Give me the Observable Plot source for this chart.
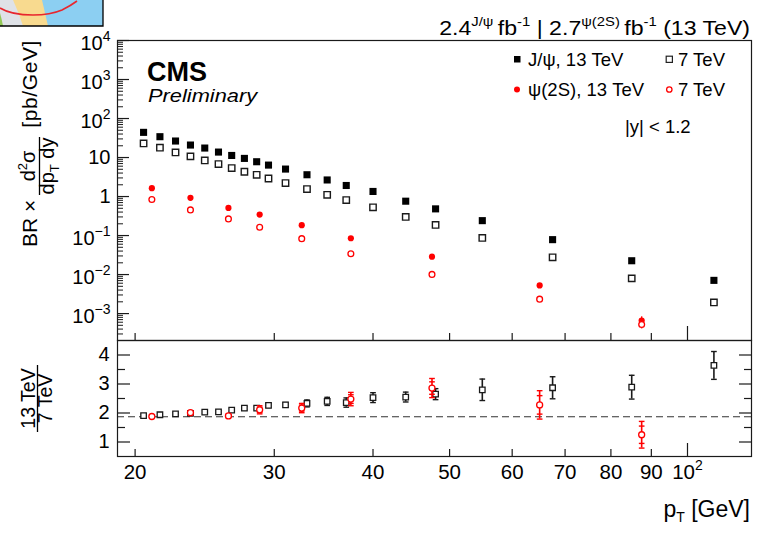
<!DOCTYPE html>
<html>
<head>
<meta charset="utf-8">
<script src="https://cdn.jsdelivr.net/npm/d3@7"></script>
<script src="https://cdn.jsdelivr.net/npm/@observablehq/plot@0.6"></script>
<style>
html,body{margin:0;padding:0;background:#fff;}
#wrap{position:relative;width:770px;height:534px;overflow:hidden;font-family:"Liberation Sans",Arial,Helvetica,sans-serif;}
#wrap svg{position:absolute;left:0;overflow:visible;}
</style>
</head>
<body>
<div id="wrap"></div>
<script>
const FONT = '"Liberation Sans", Arial, Helvetica, sans-serif';

// ---------------- data ----------------
const jpsiPt   = [20.5, 21.5, 22.5, 23.5, 24.5, 25.5, 26.5, 27.5, 28.5, 29.5, 31, 33, 35, 37, 40, 44, 48, 55, 67.5, 85, 108];
const jpsi13   = [44.2, 34.2, 26.5, 20.9, 17.5, 13.8, 11.3, 9.5, 7.8, 6.4, 5.06, 3.62, 2.66, 1.92, 1.35, 0.76, 0.483, 0.241, 0.0785, 0.0226, 0.0071];
const jpsi7    = [23.0, 17.9, 13.5, 10.7, 8.42, 6.81, 5.37, 4.32, 3.61, 2.90, 2.21, 1.55, 1.11, 0.81, 0.53, 0.30, 0.187, 0.0867, 0.0277, 0.00798, 0.00193];
const ratioJpsi    = [1.91, 1.94, 1.97, 1.99, 2.03, 2.04, 2.10, 2.17, 2.17, 2.26, 2.28, 2.33, 2.40, 2.36, 2.53, 2.55, 2.65, 2.80, 2.87, 2.89, 3.64];
const ratioJpsiErr = [0.04, 0.04, 0.04, 0.04, 0.05, 0.05, 0.06, 0.06, 0.06, 0.07, 0.08, 0.12, 0.14, 0.16, 0.17, 0.17, 0.19, 0.37, 0.38, 0.41, 0.48];

const psiPt    = [21, 23.5, 26.25, 28.75, 32.5, 37.5, 47.5, 65, 87.5];
const psi13    = [1.64, 0.926, 0.51, 0.344, 0.184, 0.0853, 0.0287, 0.00527, 0.000665];
const psi13Err = [0.03, 0.015, 0.01, 0.006, 0.004, 0.002, 0.0008, 0.0003, 0.00016];
const psi7     = [0.838, 0.455, 0.267, 0.163, 0.0832, 0.0343, 0.0101, 0.00234, 0.000525];
const psi7Err  = [0.01, 0.006, 0.004, 0.003, 0.002, 0.001, 0.0004, 0.0001, 0.00012];
const ratioPsi    = [1.88, 2.01, 1.90, 2.11, 2.17, 2.48, 2.86, 2.28, 1.25];
const ratioPsiErr = [0.05, 0.06, 0.06, 0.14, 0.16, 0.23, 0.33, 0.49, 0.46];

const refRatio = 1.87;

const yMainTicks  = [1e4, 1e3, 1e2, 10, 1, 0.1, 0.01, 0.001];
const yRatioMajor = [1, 2, 3, 4];
const yRatioMinor = [1.5, 2.5, 3.5];
const xLabelTicks = [20, 30, 40, 50, 60, 70, 80, 90, 100];

// ---------------- layout ----------------
const W = 770, ML = 117, MR = 19;
const plotW = W - ML - MR;
const mainTop = 40, mainBottom = 340, mainPH = mainBottom - mainTop;
const ratioTop = 340, ratioBottom = 456, ratioPH = ratioBottom - ratioTop;
const xDomain = [19, 120.5];
const yMainDomain = [2.04e-4, 1e4];
const yRatioDomain = [0.5, 4.5];
const INK = "#1a1a1a";
const RED = "#ff0000";

const jpsi = jpsiPt.map((pt, i) => ({pt, v13: jpsi13[i], v7: jpsi7[i], r: ratioJpsi[i], e: ratioJpsiErr[i]}));
const psi = psiPt.map((pt, i) => ({pt, v13: psi13[i], e13: psi13Err[i], v7: psi7[i], e7: psi7Err[i], r: ratioPsi[i], e: ratioPsiErr[i]}));

const yMinor = [];
for (let e = -4; e < 4; e++) for (let k = 2; k <= 9; k++) {
  const v = k * Math.pow(10, e);
  if (v > yMainDomain[0] && v < yMainDomain[1]) yMinor.push(v);
}
const xShort = xLabelTicks.filter(d => d !== 100);
const xLong = [100];

const capSym = {draw(ctx, size) { const w = Math.sqrt(size) / 2; ctx.moveTo(-w, 0); ctx.lineTo(w, 0); }};

const fmtY = d => d === 10 ? "10" : d === 1 ? "1" : "10^" + String(Math.round(Math.log10(d))).replace("-", "\u2212");
const fmtX = d => d === 100 ? "10^2" : String(d);

const baseStyle = {background: "transparent", color: "#000", fontFamily: FONT, fontSize: "20px", overflow: "visible"};

// ---------------- main panel ----------------
const main = Plot.plot({
  width: W, height: mainBottom + 1,
  marginLeft: ML, marginRight: MR, marginTop: mainTop, marginBottom: 1,
  x: {type: "log", domain: xDomain, axis: null},
  y: {type: "log", domain: yMainDomain, axis: null},
  style: baseStyle,
  marks: [
    Plot.tickY(yMainTicks, {y: d => d, insetRight: plotW - 12, stroke: INK, strokeWidth: 1.2}),
    Plot.tickY(yMinor, {y: d => d, insetRight: plotW - 6, stroke: INK, strokeWidth: 1}),
    Plot.tickX(xShort, {x: d => d, insetTop: mainPH - 7, stroke: INK, strokeWidth: 1.2}),
    Plot.tickX(xLong, {x: d => d, insetTop: mainPH - 14, stroke: INK, strokeWidth: 1.2}),
    Plot.text(yMainTicks, {y: d => d, text: fmtY, frameAnchor: "left", textAnchor: "end", dx: -7, fontSize: 20, fill: "#000"}),
    Plot.ruleX(psi, {x: "pt", y1: d => d.v13 - d.e13, y2: d => d.v13 + d.e13, stroke: RED, strokeWidth: 1.4}),
    Plot.ruleX(psi, {x: "pt", y1: d => d.v7 - d.e7, y2: d => d.v7 + d.e7, stroke: RED, strokeWidth: 1.4}),
    Plot.dot(jpsi, {x: "pt", y: "v13", symbol: "square", r: 4, fill: "#000", stroke: "none"}),
    Plot.dot(jpsi, {x: "pt", y: "v7", symbol: "square", r: 3.6, fill: "none", stroke: INK, strokeWidth: 1.4}),
    Plot.dot(psi, {x: "pt", y: "v13", r: 3.1, fill: RED, stroke: "none"}),
    Plot.dot(psi, {x: "pt", y: "v7", r: 2.9, fill: "white", stroke: RED, strokeWidth: 1.3}),
    Plot.frame({stroke: INK, strokeWidth: 1.2})
  ]
});
main.style.top = "0px";

// ---------------- ratio panel ----------------
const ratio = Plot.plot({
  width: W, height: 195,
  marginLeft: ML, marginRight: MR, marginTop: 1, marginBottom: 78,
  x: {type: "log", domain: xDomain, axis: null},
  y: {domain: yRatioDomain, axis: null},
  style: baseStyle,
  marks: [
    Plot.tickY(yRatioMajor, {y: d => d, insetRight: plotW - 13, stroke: INK, strokeWidth: 1.2}),
    Plot.tickY(yRatioMinor, {y: d => d, insetRight: plotW - 8, stroke: INK, strokeWidth: 1.2}),
    Plot.tickY(yRatioMajor, {y: d => d, insetLeft: plotW - 12, stroke: INK, strokeWidth: 1.2}),
    Plot.tickY(yRatioMinor, {y: d => d, insetLeft: plotW - 7, stroke: INK, strokeWidth: 1.2}),
    Plot.tickX(xShort, {x: d => d, insetTop: ratioPH - 7, stroke: INK, strokeWidth: 1.2}),
    Plot.tickX(xLong, {x: d => d, insetTop: ratioPH - 13, stroke: INK, strokeWidth: 1.2}),
    Plot.text(yRatioMajor, {y: d => d, text: d => String(d), frameAnchor: "left", textAnchor: "end", dx: -8, fontSize: 20, fill: "#000"}),
    Plot.text(xLabelTicks, {x: d => d, text: fmtX, frameAnchor: "bottom", textAnchor: "middle", dy: 22, fontSize: 20.5, fill: "#000"}),
    Plot.ruleY([refRatio], {y: d => d, stroke: "#333", strokeWidth: 1.2, strokeDasharray: "7,4"}),
    Plot.ruleX(jpsi, {x: "pt", y1: d => d.r - d.e, y2: d => d.r + d.e, stroke: INK, strokeWidth: 1.6}),
    Plot.dot(jpsi, {x: "pt", y: d => d.r + d.e, symbol: capSym, r: 3.2, stroke: INK, strokeWidth: 1.4, fill: "none"}),
    Plot.dot(jpsi, {x: "pt", y: d => d.r - d.e, symbol: capSym, r: 3.2, stroke: INK, strokeWidth: 1.4, fill: "none"}),
    Plot.dot(jpsi, {x: "pt", y: "r", symbol: "square", r: 3.1, fill: "white", stroke: INK, strokeWidth: 1.3}),
    Plot.ruleX(psi, {x: "pt", y1: d => d.r - d.e, y2: d => d.r + d.e, stroke: RED, strokeWidth: 1.6}),
    Plot.dot(psi, {x: "pt", y: d => d.r + d.e, symbol: capSym, r: 3.2, stroke: RED, strokeWidth: 1.4, fill: "none"}),
    Plot.dot(psi, {x: "pt", y: d => d.r - d.e, symbol: capSym, r: 3.2, stroke: RED, strokeWidth: 1.4, fill: "none"}),
    Plot.dot(psi, {x: "pt", y: d => d.r + 0.65 * d.e, symbol: capSym, r: 3.2, stroke: RED, strokeWidth: 1.4, fill: "none"}),
    Plot.dot(psi, {x: "pt", y: d => d.r - 0.65 * d.e, symbol: capSym, r: 3.2, stroke: RED, strokeWidth: 1.4, fill: "none"}),
    Plot.dot(psi, {x: "pt", y: "r", r: 3, fill: "white", stroke: RED, strokeWidth: 1.3}),
    Plot.frame({stroke: INK, strokeWidth: 1.2})
  ]
});
ratio.style.top = (ratioTop - 1) + "px";

// superscripts for "a^b" labels
function supify(svg, baseShift) {
  const ns = "http://www.w3.org/2000/svg";
  svg.querySelectorAll("text").forEach(t => {
    const s = t.textContent;
    if (!s.includes("^")) return;
    const [b, e] = s.split("^");
    while (t.firstChild) t.removeChild(t.firstChild);
    const tb = document.createElementNS(ns, "tspan");
    tb.textContent = b;
    if (baseShift) tb.setAttribute("dy", baseShift);
    const te = document.createElementNS(ns, "tspan");
    te.textContent = e;
    te.setAttribute("dy", "-9");
    te.setAttribute("font-size", "14");
    t.appendChild(tb); t.appendChild(te);
  });
}
supify(main, 3);
supify(ratio, 0);

const wrap = document.getElementById("wrap");
wrap.appendChild(main);
wrap.appendChild(ratio);

// ---------------- annotations ----------------
const ann = `
<svg width="770" height="534" style="top:0;pointer-events:none" font-family='${FONT}' fill="#000">
  <defs><clipPath id="lc"><rect x="0" y="0" width="103" height="26"/></clipPath></defs>
  <g clip-path="url(#lc)">
    <rect x="0" y="0" width="103" height="26" fill="#8ccff2"/>
    <path d="M0,0 H42 Q45,13 48,26 H0 Z" fill="#f8da8f"/>
    <path d="M0,0 H13 Q19,13 23,26 H0 Z" fill="#dfe2e7"/>
    <path d="M0,13 Q2,20 3,26 H0 Z" fill="#93c957"/>
    <path d="M0,8 C8,13 20,15 33,15 C45,15 55,13 62,10 C68,7 73,4 77,1" stroke="#e8262d" stroke-width="1.6" fill="none"/>
  </g>
  <path d="M0,26 H103 V0" stroke="#000" stroke-width="1.3" fill="none"/>

  <g transform="translate(750,34.5) scale(1.1,1)">
    <text x="0" y="0" text-anchor="end" font-size="21">2.4<tspan dy="-8.5" font-size="13.5">J/ψ</tspan><tspan dy="8.5" dx="4">fb</tspan><tspan dy="-8.5" font-size="13.5">-1</tspan><tspan dy="8.5"> | 2.7</tspan><tspan dy="-8.5" font-size="13.5">ψ(2S)</tspan><tspan dy="8.5" dx="4">fb</tspan><tspan dy="-8.5" font-size="13.5">-1</tspan><tspan dy="8.5"> (13 TeV)</tspan></text>
  </g>

  <text x="147" y="81" font-size="27" font-weight="bold">CMS</text>
  <g transform="translate(148,102) scale(1.18,1)">
    <text x="0" y="0" font-size="18.5" font-style="italic">Preliminary</text>
  </g>

  <rect x="514" y="56" width="6.5" height="6.5" fill="#000"/>
  <text x="528" y="65.5" font-size="18.5">J/ψ, 13 TeV</text>
  <rect x="666.2" y="56.2" width="6.2" height="6.2" fill="none" stroke="#222" stroke-width="1.2"/>
  <text x="678" y="65.5" font-size="18.5">7 TeV</text>
  <circle cx="517" cy="89.5" r="3" fill="${RED}"/>
  <text x="528" y="96" font-size="18.5">ψ(2S), 13 TeV</text>
  <circle cx="669.3" cy="89.5" r="2.7" fill="none" stroke="${RED}" stroke-width="1.3"/>
  <text x="678" y="96" font-size="18.5">7 TeV</text>
  <text x="625" y="133" font-size="18.5">|y| &lt; 1.2</text>

  <g transform="translate(37,0) rotate(-90)" font-size="21">
    <text x="-247" y="0">BR ×</text>
    <text x="-166" y="-2.5" text-anchor="middle" font-size="20">d<tspan dy="-8" font-size="13">2</tspan><tspan dy="8">σ</tspan></text>
    <line x1="-195" x2="-137" y1="2.5" y2="2.5" stroke="#000" stroke-width="1.3"/>
    <text x="-166" y="17" text-anchor="middle" font-size="20">dp<tspan dy="5" font-size="13">T</tspan><tspan dy="-5"> dy</tspan></text>
    <text x="-40" y="0" text-anchor="end" letter-spacing="0.6">[pb/GeV]</text>
  </g>

  <g transform="translate(35,398.5) rotate(-90)" font-size="19.5">
    <text x="0" y="0" text-anchor="middle">13 TeV</text>
    <line x1="-33.5" x2="33.5" y1="2.5" y2="2.5" stroke="#000" stroke-width="1.3"/>
    <text x="0" y="17" text-anchor="middle">7 TeV</text>
  </g>

  <text x="750" y="517" text-anchor="end" font-size="23">p<tspan dy="5" font-size="14">T</tspan><tspan dy="-5"> [GeV]</tspan></text>
</svg>`;
wrap.insertAdjacentHTML("beforeend", ann);
</script>
</body>
</html>
